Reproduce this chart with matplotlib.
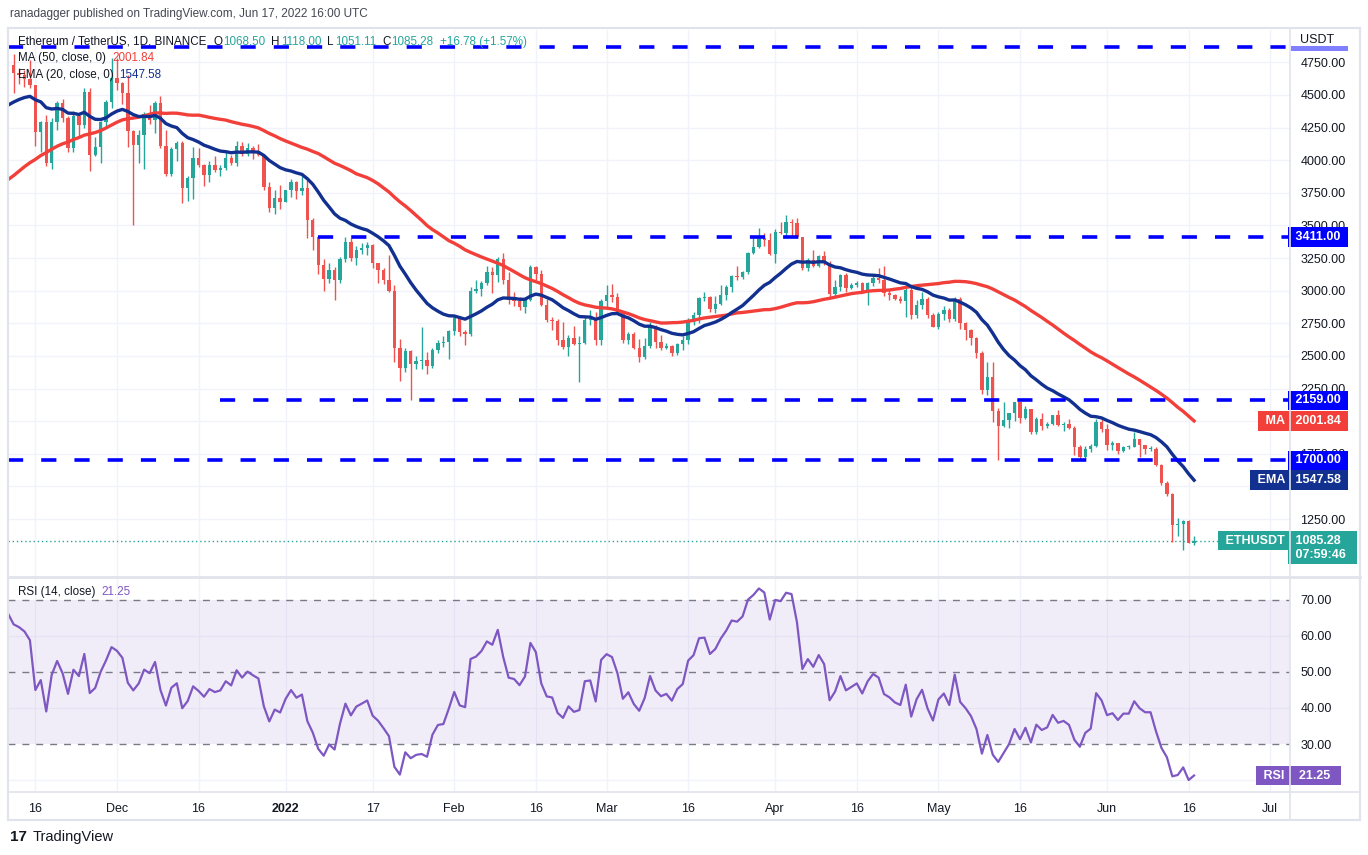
import numpy as np
import pandas as pd
import matplotlib
matplotlib.use("Agg")
import matplotlib.pyplot as plt
from matplotlib.patches import Rectangle
from matplotlib.lines import Line2D

# ETH/USDT daily, Binance. Closes before the visible window only warm up MA/EMA/RSI
warmup_close = [3077, 3155, 2931, 2925, 3063, 2934, 2807, 2853, 3001,
                3308, 3390, 3418, 3381, 3518, 3587, 3563, 3576, 3563, 3412,
                3543, 3495, 3604, 3787, 3867, 3830, 3847, 3748, 3877, 4157,
                4057, 3970, 4170, 4083, 4219, 4130, 3924, 4288, 4415, 4324, 4288,
                4324, 4588, 4606, 4536, 4475, 4520, 4614, 4808, 4733, 4636, 4732]

start_date = "2021-11-12"

close = [
    4667, 4650, 4625, 4575, 4215, 4290, 3980, 4295, 4440, 4320, 4090, 4340, 4270, 4525, 4040, 4100, 4295, 4445, 4630,
    4590, 4515, 4220, 4120, 4195, 4350, 4310, 4435, 4110, 3895, 4085, 4135, 3785, 3860, 4020, 3960, 3885, 3960, 3925,
    3940, 4020, 3980, 4110, 4045, 4095, 4065, 4040, 3795, 3630, 3710, 3680,
    3770, 3830, 3765, 3785, 3540, 3410, 3195, 3090, 3155, 3085, 3240, 3375, 3250, 3310, 3330, 3350, 3210, 3160, 3085,
    3000, 2560, 2405, 2540, 2440, 2460, 2465, 2425, 2545, 2600, 2605, 2690,
    2790, 2680, 2665, 2995, 3015, 3060, 3140, 3120, 3245, 3080, 2930, 2920, 2875, 2930, 3185, 3125, 2890, 2775, 2765,
    2620, 2570, 2640, 2590, 2600, 2775, 2780, 2620, 2920,
    2970, 2950, 2835, 2620, 2665, 2560, 2495, 2575, 2730, 2610, 2560, 2575, 2520, 2590, 2620, 2775, 2815, 2945, 2950,
    2860, 2895, 2970, 3030, 3110, 3105, 3145, 3290, 3335, 3400, 3385, 3280,
    3450, 3445, 3525, 3520, 3410, 3170, 3235, 3190, 3265, 3215, 2975, 3025, 3120, 3020, 3040, 3060, 2995, 3060, 3100,
    3080, 2985, 2965, 2935, 2920, 3005, 2810, 2890, 2935, 2815, 2725,
    2825, 2855, 2780, 2940, 2750, 2700, 2635, 2520, 2240, 2340, 2075, 1960, 2010, 2060, 2145, 2025, 2090, 1915, 2020,
    1960, 1975, 2045, 1970, 1980, 1945, 1800, 1725, 1790, 1810, 1995, 1940,
    1820, 1830, 1775, 1805, 1805, 1860, 1815, 1790, 1790, 1665, 1530, 1440, 1205, 1210, 1238, 1068.50, 1085.28,
]

high = [
    4810, 4705, 4690, 4770, 4575, 4300, 4345, 4320, 4455, 4470, 4335, 4375, 4365, 4555, 4550, 4180, 4300, 4460, 4780,
    4780, 4600, 4650, 4235, 4235, 4370, 4420, 4455, 4490, 4235, 4100, 4150, 4145, 3880, 4100, 4090, 3970, 3990, 4030,
    3960, 4060, 4040, 4150, 4140, 4130, 4110, 4125, 4045, 3830, 3770, 3810,
    3770, 3855, 3840, 3880, 3850, 3560, 3420, 3240, 3210, 3180, 3260, 3410, 3400, 3340, 3365, 3370, 3360, 3215, 3175,
    3270, 3040, 2630, 2560, 2545, 2500, 2720, 2530, 2560, 2620, 2650, 2700,
    2815, 2805, 2700, 3030, 3080, 3075, 3190, 3180, 3260, 3285, 3140, 2990, 2950, 2950, 3195, 3190, 3160, 2940, 2800,
    2780, 2760, 2660, 2730, 2650, 2800, 2855, 2840, 2940,
    3040, 3050, 2980, 2840, 2680, 2680, 2630, 2635, 2760, 2740, 2660, 2600, 2585, 2600, 2650, 2790, 2840, 2950, 2990,
    2960, 2960, 3040, 3040, 3120, 3190, 3150, 3300, 3420, 3480, 3445, 3440,
    3470, 3530, 3580, 3550, 3555, 3410, 3250, 3310, 3270, 3305, 3225, 3080, 3130, 3135, 3060, 3075, 3070, 3065, 3120,
    3170, 3190, 3005, 2975, 2960, 3020, 3040, 2925, 2990, 2955, 2830,
    2840, 2885, 2865, 2955, 2955, 2760, 2705, 2645, 2535, 2455, 2450, 2100, 2145, 2065, 2150, 2150, 2115, 2095, 2030,
    2060, 1990, 2050, 2085, 1990, 2015, 1965, 1820, 1810, 1825, 2015, 2015,
    1975, 1845, 1835, 1810, 1820, 1920, 1865, 1820, 1810, 1800, 1675, 1545, 1450, 1255, 1240, 1240, 1118.00,
]

low = [
    4515, 4580, 4560, 4550, 4110, 4060, 3955, 3930, 4230, 4290, 4060, 4060, 4180, 4250, 3920, 4030, 3980, 4265, 4400,
    4540, 4430, 4100, 3500, 3980, 3930, 4280, 4210, 4090, 3880, 3880, 3990, 3670, 3690, 3700, 3950, 3800, 3830, 3910,
    3880, 3925, 3960, 3955, 4030, 4030, 4010, 4030, 3770, 3600, 3590, 3625,
    3680, 3720, 3700, 3730, 3400, 3310, 3130, 3000, 3060, 2930, 3060, 3220, 3225, 3200, 3280, 3270, 3170, 3060, 3050,
    2990, 2450, 2310, 2380, 2160, 2400, 2400, 2365, 2410, 2520, 2570, 2475,
    2660, 2650, 2580, 2655, 2980, 2960, 3040, 2980, 3070, 3050, 2900, 2880, 2850, 2830, 2920, 3080, 2880, 2760, 2700,
    2580, 2550, 2500, 2580, 2300, 2590, 2740, 2580, 2580,
    2860, 2910, 2820, 2600, 2590, 2550, 2455, 2480, 2560, 2560, 2545, 2550, 2500, 2505, 2545, 2590, 2740, 2750, 2920,
    2840, 2830, 2890, 2930, 2990, 3085, 3090, 3130, 3280, 3330, 3345, 3270,
    3210, 3435, 3420, 3410, 3405, 3160, 3150, 3180, 3185, 3200, 2950, 2950, 2995, 2990, 3010, 3025, 2985, 2890, 3035,
    3060, 2960, 2930, 2925, 2905, 2800, 2780, 2790, 2860, 2790, 2720,
    2705, 2775, 2760, 2770, 2705, 2625, 2580, 2485, 2205, 2200, 1995, 1700, 1955, 1950, 2005, 1985, 2015, 1905, 1905,
    1935, 1950, 1970, 1960, 1925, 1940, 1740, 1710, 1710, 1765, 1805, 1915,
    1780, 1780, 1750, 1760, 1785, 1805, 1725, 1750, 1775, 1655, 1510, 1425, 1075, 1120, 1015, 1065, 1051.11,
]

# support / resistance lines drawn by the author: (level, first date)
levels = [4868, 3411, 2159, 1700]
level_starts = ["2021-11-11", "2022-01-07", "2021-12-20", "2021-11-11"]

price_ticks = [1250, 1750, 2250, 2500, 2750, 3000, 3250, 3500, 3750, 4000, 4250, 4500, 4750]
rsi_ticks = [30, 40, 50, 60, 70]

date_ticks = ["2021-11-16", "2021-12-01", "2021-12-16", "2022-01-01", "2022-01-17", "2022-02-01",
              "2022-02-16", "2022-03-01", "2022-03-16", "2022-04-01", "2022-04-16", "2022-05-01",
              "2022-05-16", "2022-06-01", "2022-06-16", "2022-07-01"]
date_labels = ["16", "Dec", "16", "2022", "17", "Feb", "16", "Mar", "16", "Apr", "16", "May",
               "16", "Jun", "16", "Jul"]

UP, DOWN = "#26a69a", "#ef5350"
MA_C, EMA_C, LVL_C, RSI_C = "#f23f3a", "#12308f", "#0000ff", "#7e57c2"
TXT, GRID, FRAME = "#131722", "#f0f3fa", "#e0e3eb"

assert len(close) == len(high) == len(low)
n = len(close)
t0 = pd.Timestamp(start_date)
def day(s):
    return (pd.Timestamp(s) - t0).days

idx = np.arange(n)
c = np.array(close, float)
o = np.r_[warmup_close[-1], c[:-1]]
h = np.maximum(np.array(high, float), np.maximum(o, c))
l = np.minimum(np.array(low, float), np.minimum(o, c))

full = pd.Series(warmup_close + close, dtype=float)
k = len(warmup_close) - 1
ma50 = full.rolling(50).mean().to_numpy()[k:]
ema20 = full.ewm(span=20, adjust=False).mean().to_numpy()[k:]
d = full.diff()
gain = d.clip(lower=0).ewm(alpha=1 / 14, adjust=False).mean()
loss = (-d.clip(upper=0)).ewm(alpha=1 / 14, adjust=False).mean()
rsi = (100 - 100 / (1 + gain / loss)).to_numpy()[k:]
xi = np.arange(-1, n)

plt.rcParams["font.family"] = ["Liberation Sans", "DejaVu Sans"]
W, H = 1368, 855
fig = plt.figure(figsize=(W / 100, H / 100), dpi=100)
renderer = fig.canvas.get_renderer()

def fx(x):
    return x / W

def fy(y):
    return 1 - y / H

PL, PR = 8, 1290
ax = fig.add_axes([fx(PL), fy(576), (PR - PL) / W, (576 - 30) / H])
ax2 = fig.add_axes([fx(PL), fy(792), (PR - PL) / W, (792 - 578) / H], sharex=ax)

# pixel scale of the reference: day i at 13.6 + 5.44 * i
x0, xpd = 13.6, 5.44
ax.set_xlim((PL - x0) / xpd, (PR - x0) / xpd)
ax.set_ylim(813.6, 4997.5)
ax2.set_ylim(16.67, 76.1)

for a in (ax, ax2):
    for s in a.spines.values():
        s.set_visible(False)
    a.yaxis.tick_right()
    a.tick_params(length=0, labelsize=9, colors=TXT, pad=7.5)
    a.set_axisbelow(True)

ax.set_xticks([day(s) for s in date_ticks])
ax.tick_params(labelbottom=False)
ax2.set_xticklabels(date_labels)
ax2.tick_params(axis="x", pad=8)
for lab in ax2.get_xticklabels():
    if lab.get_text() == "2022":
        lab.set_fontweight("bold")

ax.set_yticks(price_ticks)
ax.yaxis.set_major_formatter(lambda v, p: f"{v:.2f}")
ax.grid(axis="x", color=GRID, lw=1)
for g in np.arange(1250, 4751, 250):
    ax.axhline(g, color=GRID, lw=1, zorder=0)
ax2.set_yticks(rsi_ticks)
ax2.yaxis.set_major_formatter(lambda v, p: f"{v:.2f}")
ax2.grid(axis="x", color=GRID, lw=1)
for g in (20, 40, 60):
    ax2.axhline(g, color=GRID, lw=1, zorder=0)

# candles
col = np.where(c >= o, UP, DOWN)
ax.vlines(idx, l, h, colors=col, lw=1, zorder=3)
body = np.maximum(np.abs(c - o), 5)
ax.bar(idx, body, bottom=np.minimum(o, c), width=0.62, color=col, lw=0, zorder=3)

ax.plot(xi, ma50, color=MA_C, lw=2.4, zorder=4)
ax.plot(xi, ema20, color=EMA_C, lw=2.4, zorder=4)

for lv, st in zip(levels, level_starts):
    ax.hlines(lv, day(st), (PR - x0) / xpd, colors=LVL_C, lw=2.6,
              linestyles=(0, (4.2, 5.0)), zorder=5)

ax.axhline(close[-1], color=UP, lw=1, ls=(0, (1, 2)), zorder=2)

# RSI
ax2.axhspan(30, 70, color=RSI_C, alpha=0.1, lw=0)
for g in (30, 50, 70):
    ax2.axhline(g, color="#787b86", lw=1, ls=(0, (5, 5)))
ax2.plot(xi, rsi, color=RSI_C, lw=1.6, zorder=4)

# price-scale labels
def box(a, y, s, fc, ha="left", x=1.0015, fs=9):
    a.text(x, y, s, transform=a.get_yaxis_transform(), ha=ha, va="center", fontsize=fs,
           color="white", fontweight="bold", clip_on=False, zorder=10,
           bbox=dict(boxstyle="square,pad=0.3", fc=fc, ec="none"))

box(ax, 3411, " 3411.00 ", LVL_C)
box(ax, 2159, " 2159.00 ", LVL_C)
box(ax, 1700, " 1700.00 ", LVL_C)
box(ax, ma50[-1], f" {ma50[-1]:.2f} ", MA_C)
box(ax, ma50[-1], " MA ", MA_C, ha="right", x=0.9985)
box(ax, ema20[-1], f" {ema20[-1]:.2f} ", EMA_C)
box(ax, ema20[-1], " EMA ", EMA_C, ha="right", x=0.9985)
box(ax, close[-1] - 55, f" {close[-1]:.2f}  \n 07:59:46  ", UP)
box(ax, close[-1], " ETHUSDT ", UP, ha="right", x=0.9985)
box(ax2, rsi[-1], f"  {rsi[-1]:.2f}  ", RSI_C)
box(ax2, rsi[-1], " RSI ", RSI_C, ha="right", x=0.9985)

# frame and separators
fig.add_artist(Rectangle((fx(8), fy(820)), (1360 - 8) / W, (820 - 28) / H, transform=fig.transFigure,
                         fill=False, ec=FRAME, lw=1.5))
fig.add_artist(Line2D([fx(PR)] * 2, [fy(820), fy(28)], color=FRAME, lw=1.2))
fig.add_artist(Line2D([fx(8), fx(1360)], [fy(577)] * 2, color=FRAME, lw=2))
fig.add_artist(Line2D([fx(8), fx(1360)], [fy(792)] * 2, color=FRAME, lw=1.2))
fig.add_artist(Rectangle((fx(1291), fy(51)), 57 / W, 5 / H, transform=fig.transFigure,
                         fc=LVL_C, ec="none", alpha=0.5))
fig.text(fx(1300), fy(40), "USDT", fontsize=9, color=TXT, va="center")

# header and legends, pieces placed one after another
FS = 8.4
def text_row(y, pieces, x=18):
    for s, color, gap in pieces:
        t = fig.text(fx(x), fy(y), s, fontsize=FS, color=color, va="center")
        x = t.get_window_extent(renderer).x1 + gap

fig.text(fx(10), fy(14), "ranadagger published on TradingView.com, Jun 17, 2022 16:00 UTC",
         fontsize=8.5, color="#434651", va="center")
text_row(42, [("Ethereum / TetherUS, 1D, BINANCE", TXT, 7),
              ("O", TXT, 1), ("1068.50", UP, 6), ("H", TXT, 1), ("1118.00", UP, 6),
              ("L", TXT, 1), ("1051.11", UP, 6), ("C", TXT, 1), ("1085.28", UP, 6),
              ("+16.78 (+1.57%)", UP, 0)])
text_row(58, [("MA (50, close, 0)", TXT, 6), (f"{ma50[-1]:.2f}", MA_C, 0)])
text_row(75, [("EMA (20, close, 0)", TXT, 6), (f"{ema20[-1]:.2f}", EMA_C, 0)])
text_row(592, [("RSI (14, close)", TXT, 6), (f"{rsi[-1]:.2f}", RSI_C, 0)])

fig.text(fx(10), fy(837), "17", fontsize=11, fontweight="heavy", color=TXT, va="center")
fig.text(fx(33), fy(837), "TradingView", fontsize=10.5, color=TXT, va="center")

fig.savefig("out.png", dpi=100, facecolor="white")
